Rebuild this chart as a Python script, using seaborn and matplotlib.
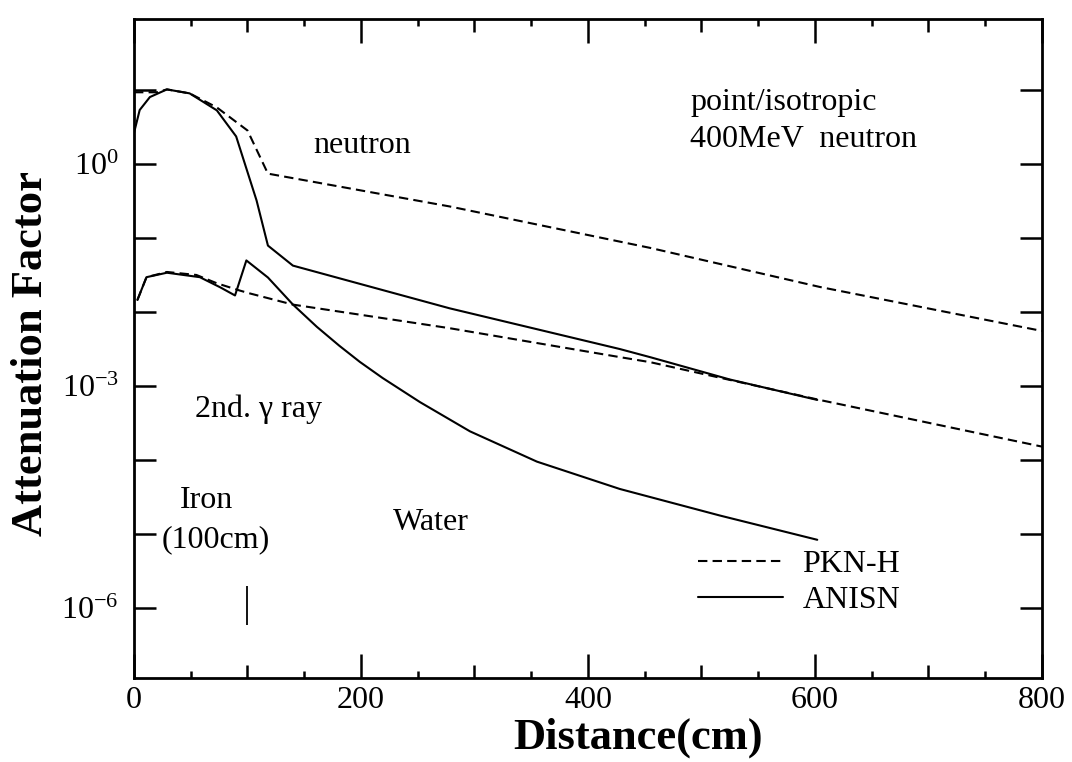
import numpy as np
import pandas as pd
import matplotlib
matplotlib.use("Agg")
import matplotlib.pyplot as plt
from matplotlib.ticker import FixedLocator, FuncFormatter
from matplotlib.lines import Line2D
import seaborn as sns

# ---------------- data ----------------
pkn_neutron_x = [0, 20, 29, 49, 73, 100, 118, 278, 455, 604, 800]
pkn_neutron_y = [9.33, 9.33, 10.2, 9.02, 5.82, 2.84, 0.741, 0.267, 0.0733, 0.0218, 5.53e-3]

anisn_neutron_x = [0, 5, 14, 29, 49, 73, 90, 108, 118, 140, 278, 428, 455, 525, 602]
anisn_neutron_y = [2.63, 5.37, 8.04, 10.2, 9.02, 5.31, 2.36, 0.321, 0.0789, 0.0423,
                   0.0112, 3.15e-3, 2.44e-3, 1.22e-3, 6.46e-4]

pkn_gamma_x = [3, 11, 29, 55, 73, 93, 102, 140, 278, 428, 455, 604, 800]
pkn_gamma_y = [0.0145, 0.0295, 0.0347, 0.0316, 0.0244, 0.0195, 0.0178, 0.01256,
               6.03e-3, 2.45e-3, 2.09e-3, 6.46e-4, 1.51e-4]

anisn_gamma_x = [3, 11, 29, 58, 76, 89, 99, 118, 140, 161, 181, 199, 219, 252, 296, 355,
                 428, 516, 602]
anisn_gamma_y = [0.0145, 0.0295, 0.0339, 0.0295, 0.0215, 0.0167, 0.0497, 0.0292, 0.0126,
                 6.31e-3, 3.48e-3, 2.11e-3, 1.28e-3, 6.03e-4, 2.43e-4, 9.46e-5,
                 4.04e-5, 1.77e-5, 8.3e-6]

# iron / water boundary marker
boundary_x = 100
boundary_y = [5.8e-7, 2.0e-6]

x_ticks = [0, 200, 400, 600, 800]
y_decades = [-6, -5, -4, -3, -2, -1, 0, 1]
y_labelled = [0, -3, -6]

legend_labels = ["PKN-H", "ANISN"]

# ---------------- style ----------------
sns.set_theme(style="ticks")
plt.rcParams["font.family"] = ["Liberation Serif", "DejaVu Serif"]
plt.rcParams["mathtext.fontset"] = "custom"
plt.rcParams["mathtext.rm"] = "Liberation Serif"
plt.rcParams["mathtext.it"] = "Liberation Serif:italic"
plt.rcParams["mathtext.bf"] = "Liberation Serif:bold"
plt.rcParams["text.color"] = "black"
plt.rcParams["axes.labelcolor"] = "black"
plt.rcParams["xtick.color"] = "black"
plt.rcParams["ytick.color"] = "black"
plt.rcParams["axes.edgecolor"] = "black"

fig = plt.figure(figsize=(10.72, 7.62), dpi=100)
ax = fig.add_axes([0.125, 0.1102, 0.847, 0.8648])

LW = 1.5
DASH = (0, (4.5, 2.5))

sns.lineplot(x=pkn_neutron_x, y=pkn_neutron_y, ax=ax, color="black", linewidth=LW,
             linestyle=DASH, sort=False, estimator=None)
sns.lineplot(x=anisn_neutron_x, y=anisn_neutron_y, ax=ax, color="black", linewidth=LW,
             sort=False, estimator=None)
sns.lineplot(x=pkn_gamma_x, y=pkn_gamma_y, ax=ax, color="black", linewidth=LW,
             linestyle=DASH, sort=False, estimator=None)
sns.lineplot(x=anisn_gamma_x, y=anisn_gamma_y, ax=ax, color="black", linewidth=LW,
             sort=False, estimator=None)

ax.vlines(boundary_x, boundary_y[0], boundary_y[1], color="black", linewidth=1.3)

ax.set_yscale("log")
ax.set_xlim(0, 800)
ax.set_ylim(10 ** -6.95, 10 ** 1.96)

# x ticks: 200 (long), 100 (medium), 50 (short)
ax.xaxis.set_major_locator(FixedLocator(x_ticks))
ax.xaxis.set_minor_locator(FixedLocator([100, 300, 500, 700]))
ax.tick_params(axis="x", which="major", direction="in", length=17, width=1.8,
               top=True, bottom=True, labelsize=23, pad=6, colors="black")
ax.tick_params(axis="x", which="minor", direction="in", length=9.5, width=1.8,
               top=True, bottom=True)
for loc in ["bottom", "top"]:
    sec = ax.secondary_xaxis(loc)
    sec.set_xticks([50, 150, 250, 350, 450, 550, 650, 750])
    sec.tick_params(direction="in", length=5, width=1.8, labelbottom=False, labeltop=False)
    for s in sec.spines.values():
        s.set_visible(False)

# y ticks at decades, labels only at 10^0, 10^-3, 10^-6
ax.yaxis.set_major_locator(FixedLocator([10.0 ** e for e in y_decades]))
ax.yaxis.set_minor_locator(FixedLocator([]))


def fmt(v, pos):
    e = int(round(np.log10(v)))
    if e in y_labelled:
        return r"$\mathregular{10^{%d}}$" % e
    return ""


ax.yaxis.set_major_formatter(FuncFormatter(fmt))
ax.tick_params(axis="y", which="major", direction="in", length=16, width=1.8,
               left=True, right=True, labelsize=23, pad=11, colors="black")

for s in ax.spines.values():
    s.set_linewidth(2.0)
    s.set_color("black")

ax.set_xlabel("Distance(cm)", fontsize=32, fontweight="bold", color="black")
ax.set_ylabel("Attenuation Factor", fontsize=32, fontweight="bold", color="black")
ax.xaxis.set_label_coords(0.555, -0.060)
ax.yaxis.set_label_coords(-0.0914, 0.493)

# annotations
tk = dict(fontsize=23, color="black", ha="left", va="baseline")
ax.text(158, 1.41, "neutron", **tk)
ax.text(490, 5.37, "point/isotropic", **tk)
ax.text(490, 1.70, "400MeV  neutron", **tk)
ax.text(54, 3.8e-4, "2nd. γ ray", **tk)
ax.text(40.5, 2.24e-5, "Iron", **tk)
ax.text(24.7, 6.6e-6, "(100cm)", **tk)
ax.text(228, 1.13e-5, "Water", **tk)

handles = [Line2D([], [], color="black", linewidth=LW, linestyle=DASH),
           Line2D([], [], color="black", linewidth=LW)]
leg = ax.legend(handles, legend_labels, loc="upper left", bbox_to_anchor=(0.621, 0.195),
                frameon=False, fontsize=23, handlelength=2.65, handletextpad=0.62,
                labelspacing=0.22, borderpad=0, borderaxespad=0)
for t in leg.get_texts():
    t.set_color("black")

fig.savefig("out.png", dpi=100)
